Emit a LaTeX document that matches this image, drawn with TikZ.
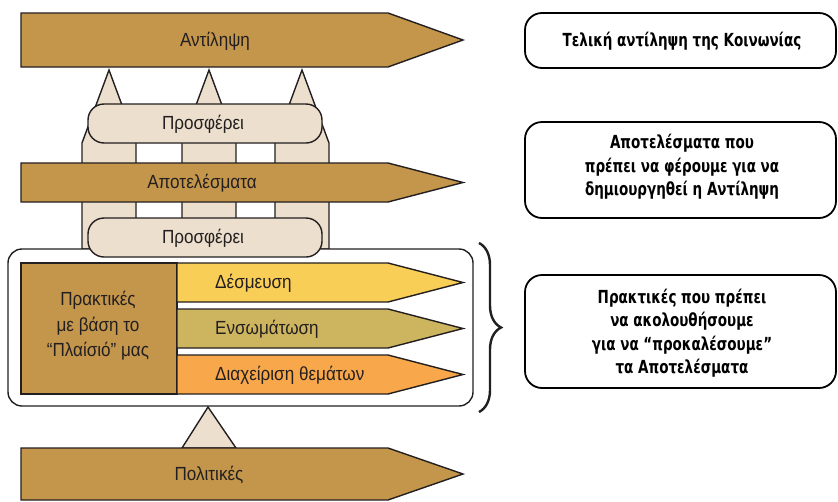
\documentclass[tikz,border=0pt]{standalone}
\usepackage{fontspec}
\setmainfont{Liberation Sans}
\newfontfamily\lblfont{Liberation Sans}[FakeStretch=0.9]
\newfontfamily\boxfont{DejaVu Sans}[FakeStretch=0.75]
\usetikzlibrary{decorations.pathreplacing}
\definecolor{brownA}{HTML}{C4964B}
\definecolor{beigeA}{HTML}{ECDFCD}
\definecolor{yellowA}{HTML}{F9CE56}
\definecolor{oliveA}{HTML}{CDB560}
\definecolor{orangeA}{HTML}{F8A84B}
\definecolor{lineA}{HTML}{231F20}
\definecolor{txtA}{HTML}{231F20}
\tikzset{
  outl/.style={draw=lineA, line width=1.4pt, line join=miter},
  brownshape/.style={outl, fill=brownA},
  pillar/.style={outl, fill=beigeA},
  offer/.style={outl, fill=beigeA, rounded corners=16pt},
  lbl/.style={font=\lblfont\fontsize{19}{20}\selectfont, text=txtA, inner sep=0pt},
  sublbl/.style={lbl, anchor=west},
  infobox/.style={draw=black, line width=1.8pt, rounded corners=17pt, fill=white},
  infotxt/.style={font=\boxfont\bfseries\fontsize{18}{23.5}\selectfont, align=center, inner sep=0pt, text=black},
}
\begin{document}
\begin{tikzpicture}[x=1pt,y=-1pt]
\useasboundingbox (0,0) rectangle (838,501);
% pillars
\foreach \c in {109,209,302}{
  \draw[pillar] (\c-27,249) -- (\c-27,143) -- (\c,70) -- (\c+27,143) -- (\c+27,249) -- cycle;
}
% big frame
\draw[outl, fill=white, rounded corners=14pt] (8,249) rectangle (473,406);
% base triangle
\draw[pillar] (182,448) -- (208,407) -- (236,448) -- cycle;
% top arrows
\draw[brownshape] (21,13) -- (388,13) -- (463,40) -- (388,67) -- (21,67) -- cycle;
\node[lbl] (antil) at (215,41) {Αντίληψη};
\draw[brownshape] (21,163) -- (388,163) -- (463,182.5) -- (388,202) -- (21,202) -- cycle;
\node[lbl] (apot) at (202,183) {Αποτελέσματα};
% offer boxes
\draw[offer] (88,104) rectangle (322,143);
\node[lbl] (pros1) at (203,124) {Προσφέρει};
\draw[offer] (88,218) rectangle (322,257);
\node[lbl] (pros2) at (203,238) {Προσφέρει};
% practices
\draw[brownshape] (21,263) rectangle (177,394);
\node[lbl, align=center, font=\lblfont\fontsize{19}{25.5}\selectfont] (prakt) at (98,326) {Πρακτικές\\με βάση το\\“Πλαίσιό” μας};
\draw[outl, fill=yellowA] (177,263) -- (388,263) -- (463,282.5) -- (388,302) -- (177,302) -- cycle;
\node[sublbl] (desm) at (215,283) {Δέσμευση};
\draw[outl, fill=oliveA] (177,309) -- (388,309) -- (463,328.5) -- (388,348) -- (177,348) -- cycle;
\node[sublbl] (enso) at (215,329) {Ενσωμάτωση};
\draw[outl, fill=orangeA] (177,355) -- (388,355) -- (463,374.5) -- (388,394) -- (177,394) -- cycle;
\node[sublbl] (diax) at (215,375) {Διαχείριση θεμάτων};
% policies
\draw[brownshape] (21,448) -- (388,448) -- (463,474) -- (388,500) -- (21,500) -- cycle;
\node[lbl] (polit) at (209,475) {Πολιτικές};
% brace
\coordinate (bt) at (479,243);
\coordinate (bb) at (479,412);
\draw[line width=2.4pt, draw=lineA, decorate, decoration={brace, amplitude=22pt, aspect=0.5}] (bt) -- (bb);
% right info boxes
\draw[infobox] (525,13) rectangle (836,68);
\node[infotxt] (i1) at (682,41) {Τελική αντίληψη της Κοινωνίας};
\draw[infobox] (525,122) rectangle (836,218);
\node[infotxt] (i2) at (682,167) {Αποτελέσματα που\\πρέπει να φέρουμε για να\\δημιουργηθεί η Αντίληψη};
\draw[infobox] (525,275) rectangle (836,388);
\node[infotxt] (i3) at (682,333) {Πρακτικές που πρέπει\\να ακολουθήσουμε\\για να “προκαλέσουμε”\\τα Αποτελέσματα};
\end{tikzpicture}
\end{document}
